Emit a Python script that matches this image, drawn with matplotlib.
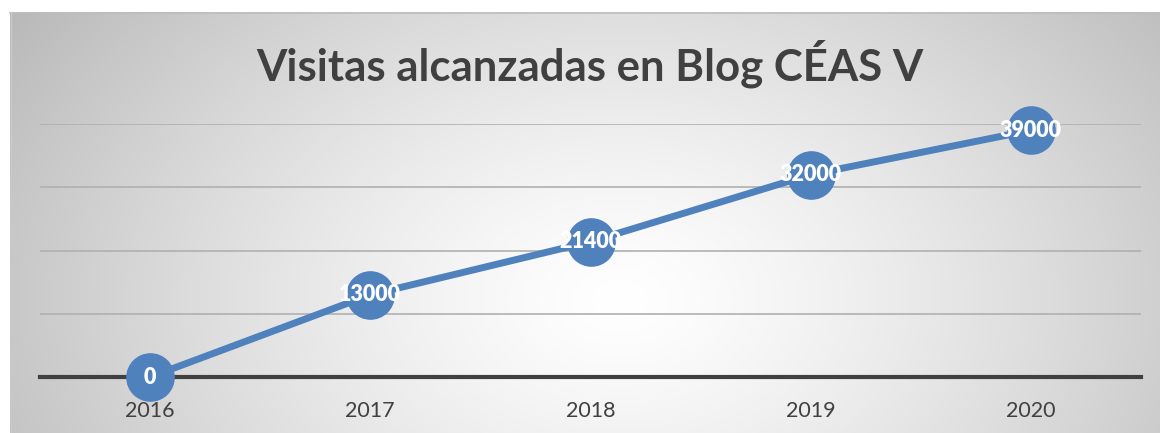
import numpy as np
import matplotlib
matplotlib.use("Agg")
import matplotlib.pyplot as plt

years = ["2016", "2017", "2018", "2019", "2020"]
visits = [0, 13000, 21400, 32000, 39000]
title = "Visitas alcanzadas en Blog CÉAS V"

W, H = 1160, 433
fig = plt.figure(figsize=(W / 100, H / 100), dpi=100)

# background gradient panel
bg = fig.add_axes([10 / W, 0, 1 - 10 / W, 1 - 12 / H], zorder=0)
xs = np.linspace(10, W, 400)
ys = np.linspace(12, H, 200)
X, Y = np.meshgrid(xs, ys)
r = np.sqrt(((X - 620) / 620) ** 2 + ((Y - 300) / 430) ** 2)
r = np.clip(r, 0, 1.2)
val = 1 - 0.22 * r ** 1.3
img = np.dstack([val, val, val])
bg.imshow(img, extent=[10, W, H, 12], aspect="auto", interpolation="bilinear")
bg.set_xlim(10, W)
bg.set_ylim(H, 12)
bg.axis("off")
fig.add_artist(plt.Line2D([10 / W, 1], [1 - 12.5 / H, 1 - 12.5 / H], transform=fig.transFigure,
                          color="#bdbdbd", lw=1.2))
fig.add_artist(plt.Line2D([10.5 / W, 10.5 / W], [0, 1 - 12 / H], transform=fig.transFigure,
                          color="#c9c9c9", lw=1.0))

ax = fig.add_axes([40 / W, 1 - 377 / H, 1101 / W, (377 - 124) / H], zorder=1)
ax.patch.set_alpha(0)
x = np.arange(len(years))
ax.set_xlim(-0.5, len(years) - 0.5)
ax.set_ylim(0, 40000)
ax.set_yticks([0, 10000, 20000, 30000, 40000])
ax.yaxis.grid(True, color="#b0b0b0", lw=1.2)
ax.set_axisbelow(True)
for s in ["top", "right", "left"]:
    ax.spines[s].set_visible(False)
ax.spines["bottom"].set_color("#404040")
ax.spines["bottom"].set_linewidth(3)
ax.spines["bottom"].set_zorder(2)
ax.tick_params(axis="y", left=False, labelleft=False)
ax.tick_params(axis="x", bottom=False, pad=14)
ax.set_xticks(x)
ax.set_xticklabels(years, fontsize=15.5, color="#404040", family="Lato")

ax.plot(x, visits, color="#4f81bd", lw=5, marker="o", markersize=34,
        markerfacecolor="#4f81bd", markeredgecolor="#4f81bd", zorder=3, clip_on=False)
for xi, v in zip(x, visits):
    ax.text(xi, v, f"{v}", ha="center", va="center", color="white", fontsize=15.5,
            fontweight="heavy", family="Lato", zorder=4)

fig.text(590 / W, 1 - 64 / H, title, ha="center", va="center", fontsize=31.5,
         fontweight="bold", color="#404040", family="Lato")

fig.savefig("out.png", dpi=100)
